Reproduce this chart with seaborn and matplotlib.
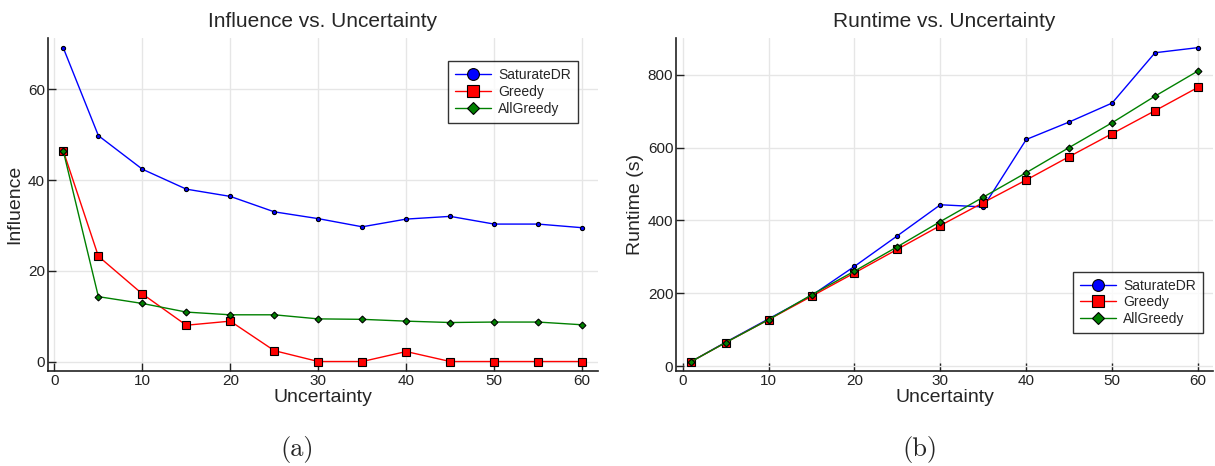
import numpy as np
import pandas as pd
import matplotlib
matplotlib.use("Agg")
import matplotlib.pyplot as plt
import seaborn as sns
from matplotlib.lines import Line2D

# data
uncertainty = [1, 5, 10, 15, 20, 25, 30, 35, 40, 45, 50, 55, 60]

infl_saturate = [69.2, 49.8, 42.4, 38.0, 36.4, 33.0, 31.5, 29.7, 31.4, 32.0, 30.3, 30.3, 29.5]
infl_greedy = [46.5, 23.2, 14.9, 8.0, 8.9, 2.4, 0.0, 0.0, 2.2, 0.0, 0.0, 0.0, 0.0]
infl_allgreedy = [46.5, 14.3, 12.8, 10.9, 10.3, 10.3, 9.4, 9.3, 8.9, 8.6, 8.7, 8.7, 8.1]

rt_saturate = [13, 66, 130, 194, 274, 358, 443, 437, 622, 670, 722, 860, 874]
rt_greedy = [13, 65, 128, 192, 256, 321, 386, 449, 511, 575, 638, 701, 765]
rt_allgreedy = [13, 65, 128, 196, 261, 328, 397, 464, 531, 600, 668, 741, 810]

series = ['SaturateDR', 'Greedy', 'AllGreedy']
colors = {'SaturateDR': '#0000ff', 'Greedy': '#ff0000', 'AllGreedy': '#008000'}
markers = {'SaturateDR': 'o', 'Greedy': 's', 'AllGreedy': 'D'}
msizes = {'SaturateDR': 3, 'Greedy': 5.5, 'AllGreedy': 3.5}
leg_sizes = {'SaturateDR': 8.5, 'Greedy': 8, 'AllGreedy': 6.5}

sns.set_style("white")
plt.rcParams['font.family'] = ['Liberation Sans', 'DejaVu Sans']

fig = plt.figure(figsize=(12.15, 4.66), dpi=100)
ax1 = fig.add_axes([0.0392, 0.204, 0.4527, 0.714])
ax2 = fig.add_axes([0.5565, 0.204, 0.4420, 0.714])


def draw(ax, vals, title, ylabel, yticks, legend_loc, bbox):
    for name, v in zip(series, vals):
        df = pd.DataFrame({'x': uncertainty, 'y': v})
        sns.lineplot(data=df, x='x', y='y', ax=ax, color=colors[name], lw=1,
                     marker=markers[name], markersize=msizes[name],
                     markerfacecolor=colors[name], markeredgecolor='black',
                     markeredgewidth=0.8)
    lo = min(min(v) for v in vals)
    hi = max(max(v) for v in vals)
    pad = (hi - lo) * 0.03
    ax.set_ylim(lo - pad, hi + pad)
    ax.set_xlim(1 - 59 * 0.03, 60 + 59 * 0.03)
    ax.set_xticks([0, 10, 20, 30, 40, 50, 60])
    ax.set_yticks(yticks)
    ax.grid(True, color='#e6e6e6', lw=1)
    ax.set_axisbelow(True)
    for s in ['top', 'right']:
        ax.spines[s].set_visible(False)
    for s in ['left', 'bottom']:
        ax.spines[s].set_color('#222222')
        ax.spines[s].set_linewidth(1.2)
    ax.tick_params(direction='in', length=6, width=1, colors='#222222',
                   labelsize=11, pad=2, left=True, bottom=True)
    ax.set_title(title, fontsize=15, pad=8)
    ax.set_xlabel('Uncertainty', fontsize=14, labelpad=1)
    ax.set_ylabel(ylabel, fontsize=14, labelpad=3)

    handles = [Line2D([0], [0], color=colors[n], lw=1, marker=markers[n],
                      markersize=leg_sizes[n],
                      markerfacecolor=colors[n], markeredgecolor='black',
                      markeredgewidth=0.8, label=n) for n in series]
    leg = ax.legend(handles=handles, loc=legend_loc, bbox_to_anchor=bbox,
                    fontsize=10, frameon=True, fancybox=False,
                    edgecolor='black', handlelength=2.6, labelspacing=0.2,
                    borderpad=0.5, handletextpad=0.5, borderaxespad=0)
    leg.get_frame().set_linewidth(1)


draw(ax1, [infl_saturate, infl_greedy, infl_allgreedy],
     'Influence vs. Uncertainty', 'Influence', [0, 20, 40, 60],
     'upper right', (0.964, 0.931))
draw(ax2, [rt_saturate, rt_greedy, rt_allgreedy],
     'Runtime vs. Uncertainty', 'Runtime (s)', [0, 200, 400, 600, 800],
     'lower right', (0.981, 0.114))

fig.text(0.245, 0.022, '(a)', fontsize=19, family=['cmr10', 'DejaVu Serif'], ha='center')
fig.text(0.757, 0.022, '(b)', fontsize=19, family=['cmr10', 'DejaVu Serif'], ha='center')

fig.savefig('out.png', dpi=100)
